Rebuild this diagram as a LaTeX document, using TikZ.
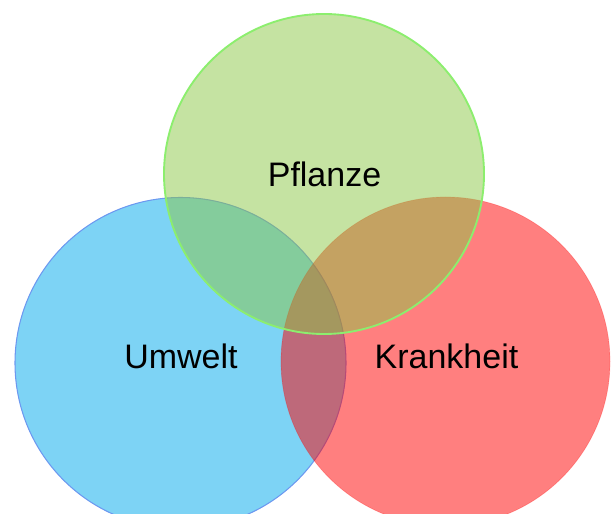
\documentclass[tikz,border=0pt]{standalone}
\usepackage{fontspec}
\setmainfont{Liberation Sans}
\definecolor{umweltfill}{RGB}{125,211,245}
\definecolor{umweltline}{RGB}{108,152,240}
\definecolor{krankfill}{RGB}{255,0,0}
\definecolor{pflanzefill}{RGB}{139,199,69}
\definecolor{pflanzeline}{RGB}{140,238,110}

\begin{document}
\begin{tikzpicture}[x=0.03cm, y=-0.03cm,
        venntext/.style={font=\fontsize{29}{34}\selectfont, anchor=base, black}]
        \useasboundingbox (0,0) rectangle (612,514);
        % Kreise: blau, rot, gruen
        \draw [umweltline, fill=umweltfill, line width=0.9pt] (180.5,363) circle [radius=165.5];
        \draw [krankfill, draw opacity=0.25, fill=krankfill, fill opacity=0.5, line width=0.6pt] (445.5,361.5) circle [radius=164.5];
        \draw [pflanzeline, fill=pflanzefill, fill opacity=0.5, line width=1.6pt] (324,174) circle [radius=160];
        % Beschriftung
        \node[venntext] (pflanze) at (324.5,187) {Pflanze};
        \node[venntext] (umwelt) at (181,369) {Umwelt};
        \node[venntext] (krankheit) at (446.5,369) {Krankheit};
    \end{tikzpicture}
\end{document}
